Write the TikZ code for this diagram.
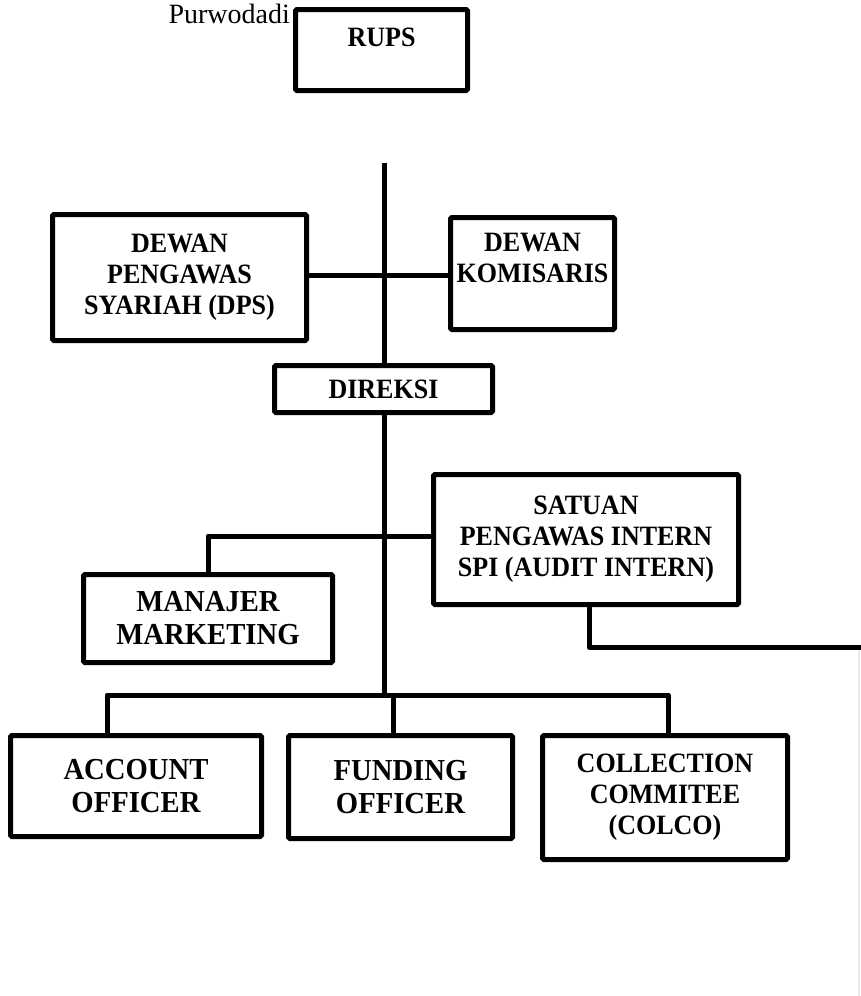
\documentclass[tikz,border=0pt]{standalone}
\usepackage{fontspec}
\setmainfont{Liberation Serif}
\newfontfamily\boxfont{Liberation Serif}[FakeStretch=0.93]
\newfontfamily\bigboxfont{Liberation Serif}[FakeStretch=0.94]
\begin{document}
\begin{tikzpicture}[x=1pt,y=-1pt,
  box/.style={draw=black,line width=5pt,fill=white,rounded corners=1.5pt,inner sep=0pt,align=center,
    font=\boxfont\fontsize{28}{31}\selectfont\bfseries},
  bigbox/.style={box,font=\bigboxfont\fontsize{30.5}{33}\selectfont\bfseries},
  link/.style={line width=5pt,line join=round}]
\useasboundingbox (0,0) rectangle (861,996);
\coordinate (top) at (384,163);
\coordinate (j1) at (384,275);
\coordinate (j2) at (384,536);
\coordinate (mj) at (208,536);
\coordinate (bus) at (384,695);
\coordinate (busL) at (107,695);
\coordinate (busF) at (393,695);
\coordinate (busR) at (668,695);
\coordinate (spiturn) at (589,647);
\coordinate (spiend) at (861,647);
\coordinate (faintA) at (859,650);
\coordinate (faintB) at (859,996);

\node[anchor=base west,font=\fontsize{28}{30}\selectfont] (purwo) at (165,23) {Purwodadi};
\node[box,minimum width=172,minimum height=81] (rups) at (381.5,50) {RUPS\\[-6pt]~};
\node[box,minimum width=254,minimum height=126] (dps) at (179.5,277.5) {DEWAN\\PENGAWAS\\SYARIAH (DPS)};
\node[box,minimum width=164,minimum height=112] (kom) at (532.5,273.5) {DEWAN\\KOMISARIS\\~};
\node[box,minimum width=218,minimum height=47] (dir) at (383.5,389) {DIREKSI};
\node[box,minimum width=305,minimum height=130] (spi) at (586,539.5) {SATUAN\\PENGAWAS INTERN\\SPI (AUDIT INTERN)};
\node[bigbox,minimum width=249,minimum height=88] (man) at (208,618.5) {MANAJER\\MARKETING};
\node[bigbox,minimum width=251,minimum height=101] (acc) at (136,786) {ACCOUNT\\OFFICER};
\node[bigbox,minimum width=224,minimum height=103] (fun) at (400.5,787) {FUNDING\\OFFICER};
\node[box,minimum width=245,minimum height=124] (col) at (665,797.5) {COLLECTION\\COMMITEE\\(COLCO)};

\draw[link] (top) -- (top |- dir.north);
\draw[link] (dps.east |- j1) -- (kom.west |- j1);
\draw[link] (dir.south -| top) -- (bus);
\draw[link] (spi.west |- j2) -- (mj) -- (mj |- man.north);
\draw[link] (busL |- acc.north) -- (busL) -- (busR) -- (busR |- col.north);
\draw[link] (busF) -- (busF |- fun.north);
\draw[link] (spiturn |- spi.south) -- (spiturn) -- (spiend);
\draw[gray!15,line width=1.5pt] (faintA) -- (faintB);
\end{tikzpicture}
\end{document}
